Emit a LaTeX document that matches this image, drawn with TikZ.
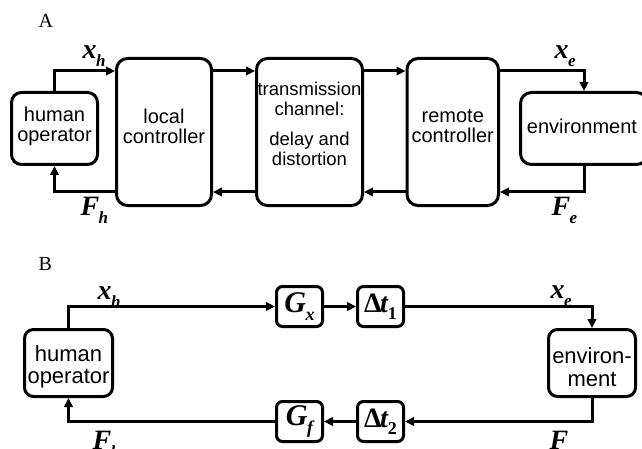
\documentclass[tikz,border=0pt]{standalone}
\usepackage{fontspec}
\setmainfont{Liberation Serif}
\newfontfamily\arialf{Liberation Sans}
\usetikzlibrary{arrows.meta}
\newcommand{\varlab}[2]{{\fontsize{28}{28}\selectfont\bfseries\itshape #1}\kern-0.5pt\raisebox{-8pt}{\fontsize{17}{17}\selectfont\bfseries\itshape #2}}
\newcommand{\boxlab}[2]{{\fontsize{30}{30}\selectfont\bfseries\itshape #1}\kern-0.5pt\raisebox{-8pt}{\fontsize{18}{18}\selectfont\bfseries\itshape #2}}
\newcommand{\dtlab}[1]{{\fontsize{28}{28}\selectfont\bfseries Δ\kern-1.5pt\itshape t}\raisebox{-7pt}{\fontsize{18}{18}\selectfont\bfseries #1}}
\begin{document}
\begin{tikzpicture}[x=1pt,y=-1pt,
  line width=3pt,
  box/.style={draw, rounded corners=11pt, inner sep=0pt},
  sbox/.style={draw, rounded corners=6pt, inner sep=0pt, minimum width=46pt, minimum height=40pt},
  conn/.style={-{Triangle[length=9pt,width=8.5pt]}},
  txtA/.style={font=\arialf\fontsize{20}{20}\selectfont, align=center, inner sep=0pt},
  txtT/.style={font=\arialf\fontsize{18.5}{20}\selectfont, align=center, inner sep=0pt},
  txtB/.style={font=\arialf\fontsize{22}{22.5}\selectfont, align=center, inner sep=0pt},
  vlab/.style={inner sep=0pt, anchor=base west},
  panel/.style={inner sep=0pt, anchor=base west, font=\fontsize{20}{20}\selectfont}]
\clip (0,0) rectangle (642,449);
% ---------- Panel A ----------
\node[panel] (labA) at (37,28) {A};
\node[box, rounded corners=10pt, minimum width=86pt, minimum height=72pt] (hoA) at (54.5,128.5) {};
\node[box, minimum width=95pt, minimum height=147pt] (lc) at (164,132) {};
\node[box, minimum width=106pt, minimum height=147pt] (tc) at (309.5,132) {};
\node[box, minimum width=91.5pt, minimum height=147pt] (rc) at (452.75,132) {};
\node[box, minimum width=127pt, minimum height=72pt] (envA) at (584,128.5) {};
\node[txtA] (hoAt) at (54.5,126.5) {human\\operator};
\node[txtA] (lct) at (164,126) {local\\controller};
\node[txtT] (tct) at (309.5,124) {transmission\\channel:\\[10pt]delay and\\distortion};
\node[txtA] (rct) at (452.75,126) {remote\\controller};
\node[txtA] (envAt) at (582,126) {environment};
\coordinate (ytA) at (0,71);
\coordinate (ybA) at (0,192);
\draw[conn] (hoA.north) |- (lc.west |- ytA);
\draw[conn] (lc.east |- ytA) -- (tc.west |- ytA);
\draw[conn] (tc.east |- ytA) -- (rc.west |- ytA);
\draw[conn] (rc.east |- ytA) -| (envA.north);
\draw[conn] (envA.south) |- (rc.east |- ybA);
\draw[conn] (rc.west |- ybA) -- (tc.east |- ybA);
\draw[conn] (tc.west |- ybA) -- (lc.east |- ybA);
\draw[conn] (lc.west |- ybA) -| (hoA.south);
\node[vlab] (xhA) at (81,59) {\varlab{x}{h}};
\node[vlab] (FhA) at (79,215) {\varlab{F}{h}};
\node[vlab] (xeA) at (553,59) {\varlab{x}{e}};
\node[vlab] (FeA) at (550,215) {\varlab{F}{e}};
% ---------- Panel B ----------
\node[panel] (labB) at (37,270) {B};
\node[box, rounded corners=9pt, minimum width=88pt, minimum height=67pt] (hoB) at (68.5,363) {};
\node[box, rounded corners=9pt, minimum width=87pt, minimum height=67pt] (envB) at (592,363) {};
\node[txtB] (hoBt) at (68.5,367) {human\\operator};
\node[txtB] (envBt) at (592,367) {environ-\\ment};
\node[sbox] (Gx) at (299.5,306.5) {\boxlab{G}{x}};
\node[sbox] (dt1) at (380.5,306.5) {\dtlab{1}};
\node[sbox] (Gf) at (299.5,421.5) {\boxlab{G}{f}};
\node[sbox] (dt2) at (380.5,421.5) {\dtlab{2}};
\draw[conn] (hoB.north) |- (Gx.west);
\draw[conn] (Gx.east) -- (dt1.west);
\draw[conn] (dt1.east) -| (envB.north);
\draw[conn] (envB.south) |- (dt2.east);
\draw[conn] (dt2.west) -- (Gf.east);
\draw[conn] (Gf.west) -| (hoB.south);
\node[vlab] (xhB) at (96,299) {\varlab{x}{h}};
\node[vlab] (FhB) at (91,449) {\varlab{F}{h}};
\node[vlab] (xeB) at (549,298) {\varlab{x}{e}};
\node[vlab] (FeB) at (548,449) {\varlab{F}{e}};
\end{tikzpicture}
\end{document}
